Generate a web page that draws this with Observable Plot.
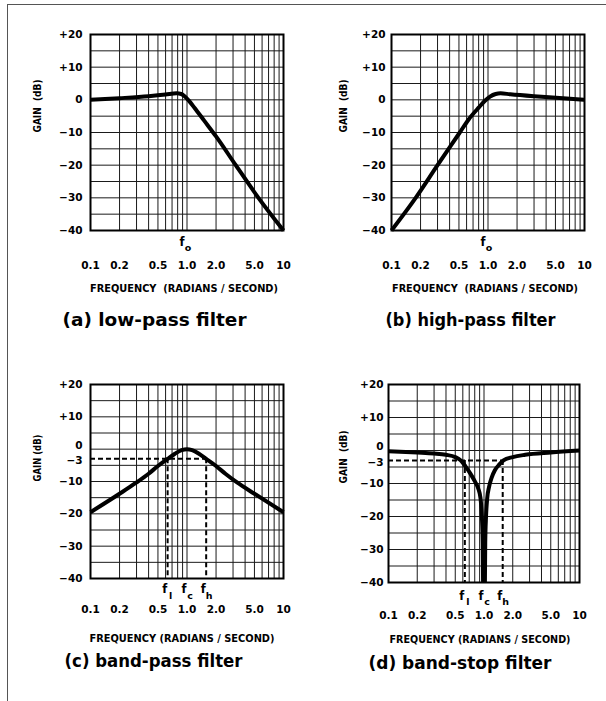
<!DOCTYPE html>
<html><head><meta charset="utf-8">
<script src="https://cdn.jsdelivr.net/npm/d3@7"></script>
<script src="https://cdn.jsdelivr.net/npm/@observablehq/plot@0.6"></script>
<style>
body{margin:0;background:#fff;}
#fig{position:relative;width:606px;height:701px;overflow:hidden;background:#fff;}
#border{position:absolute;left:7px;top:4px;width:620px;height:720px;border-top:1.5px solid #555;border-left:1.5px solid #555;}
.panel{position:absolute;}
</style></head><body>
<div id="fig"><div id="border"></div></div>
<script>
// ---- axes / grid values ----
const xGrid = [0.1,0.2,0.3,0.4,0.5,0.6,0.7,0.8,0.9,1,2,3,4,5,6,7,8,9,10];
const yGrid = [-40,-35,-30,-25,-20,-15,-10,-5,0,5,10,15,20];
const xTicks = [0.1,0.2,0.5,1,2,5,10];
const xTickLabels = ["0.1","0.2","0.5","1.0","2.0","5.0","10"];
const yTicks = [20,10,0,-10,-20,-30,-40];
const yTickLabels = ["+20","+10","0","\u221210","\u221220","\u221230","\u221240"];
const yTicksBand = [20,10,-10,-20,-30,-40];
const yTickLabelsBand = ["+20","+10","\u221210","\u221220","\u221230","\u221240"];
const yZeroTick = [0];
const yZeroLabel = ["0"];
const yHalfTick = [-3];
const yHalfLabel = ["\u22123"];

// ---- series ----
const lowPassFreq = [0.1,0.2,0.4,0.6,0.78,0.87,0.95,1.05,1.2,1.5,2,3.2,5.5,10];
const lowPassGain = [0,0.5,1.1,1.6,2,1.8,1.0,-0.3,-2.5,-6.3,-11.2,-20,-30,-40];

const highPassFreq = [0.1,0.178,0.3,0.51,0.63,0.8,0.93,1.05,1.2,1.35,1.7,3,6,10];
const highPassGain = [-40,-30,-20,-10,-6,-2.4,-0.3,1.0,1.8,2,1.7,1.1,0.5,0];

const bandPassFreq = [0.1,0.2,0.3,0.4,0.5,0.63,0.75,0.88,1.0,1.13,1.33,1.58,2,2.5,3.3,5,10];
const bandPassGain = [-19.5,-13.8,-10.3,-7.6,-5.2,-3,-1.4,-0.3,0,-0.3,-1.4,-3,-5.2,-7.6,-10.3,-13.8,-19.5];

const bandStopLowFreq = [0.1,0.2,0.3,0.4,0.5,0.57,0.64,0.72,0.8,0.87,0.92,0.95,0.97,0.978];
const bandStopLowGain = [-0.2,-0.6,-0.9,-1.3,-2,-3,-4.8,-7,-9.3,-11.5,-14.5,-20,-28,-40];
const bandStopHighFreq = [1.022,1.03,1.05,1.08,1.13,1.2,1.3,1.45,1.6,2,2.7,5,10];
const bandStopHighGain = [-40,-28,-20,-14.5,-11,-8.3,-6,-4.2,-3,-2,-1.3,-0.6,0];

const bandPassMarkFreq = [0.63,1.0,1.58];
const bandStopMarkFreq = [0.63,1.0,1.57];
const bandMarkSubs = ["l","c","h"];
const cornerFreq = [1.0];
const cornerSub = ["o"];
const halfPowerGain = -3;

const titles = ["(a) low-pass filter","(b) high-pass filter","(c) band-pass filter","(d) band-stop filter"];
const freqLabelWide = "FREQUENCY\u00a0\u00a0(RADIANS / SECOND)";
const freqLabel = "FREQUENCY (RADIANS / SECOND)";
const gainLabelWide = "GAIN\u00a0\u00a0(dB)";
const gainLabel = "GAIN (dB)";

const FONT = "DejaVu Sans, Liberation Sans, sans-serif";
const COND = "DejaVu Sans Condensed, DejaVu Sans, Liberation Sans, sans-serif";

function toRows(fs, gs, branch){ return fs.map((f,i)=>({f, g: gs[i], branch})); }

function makePanel(c){
  const marks = [
    Plot.ruleX(xGrid, {stroke:"#1a1a1a", strokeWidth:1}),
    Plot.ruleY(yGrid, {stroke:"#1a1a1a", strokeWidth:1}),
  ];
  if (c.marks) {
    marks.push(
      Plot.ruleY([halfPowerGain], {x1: 0.1, x2: c.marks[2], stroke:"#000", strokeWidth:2, strokeDasharray:"5,3"}),
      Plot.ruleX([c.marks[0], c.marks[2]], {y1: halfPowerGain, y2: -40, stroke:"#000", strokeWidth:2, strokeDasharray:"5,3"})
    );
  }
  for (const s of c.series) {
    marks.push(Plot.line(s, {x:"f", y:"g", z:"branch", stroke:"#000", strokeWidth:4, curve:"monotone-x", strokeLinejoin:"round", strokeLinecap:"butt"}));
  }
  marks.push(Plot.frame({stroke:"#000", strokeWidth:2}));
  // f labels
  const fx = c.marks || cornerFreq;
  const subs = c.marks ? bandMarkSubs : cornerSub;
  marks.push(
    Plot.text(fx, {x: d=>d, text: ()=>"f", frameAnchor:"bottom", dy:c.fDy, dx:c.fDx, fontSize:11.5, fontWeight:"bold", fontFamily:FONT, fill:"#000"}),
    Plot.text(subs, {x: (d,i)=>fx[i], text: d=>d, frameAnchor:"bottom", dy:c.subDy, dx:c.subDx, fontSize:9.5, fontWeight:"bold", fontFamily:FONT, fill:"#000"})
  );
  const yText = {frameAnchor:"left", dx:c.yDx, textAnchor:"end", fontSize:10.5, fontWeight:"bold", fontFamily:FONT, fill:"#000"};
  // tick labels
  marks.push(
    Plot.text(xTickLabels, {x:(d,i)=>xTicks[i], text:d=>d, frameAnchor:"bottom", dy:c.tickDy, fontSize:10.5, fontWeight:"bold", fontFamily:FONT, fill:"#000"}),
    Plot.text(c.yL, {y:(d,i)=>c.yT[i], text:d=>d, ...yText}),
    Plot.text([c.gain], {text:d=>d, frameAnchor:"left", dx:c.gainDx, rotate:-90, fontSize:10, fontWeight:"bold", fontFamily:COND, fill:"#000"}),
    Plot.text([c.freq], {text:d=>d, frameAnchor:"bottom", dx:c.freqDx, dy:c.freqDy, fontSize:10.5, fontWeight:"bold", fontFamily:COND, fill:"#000"}),
    Plot.text([c.title], {text:d=>d, frameAnchor:"bottom-left", dx:c.titleDx, dy:c.titleDy, textAnchor:"start", fontSize:17.5, fontWeight:"bold", fontFamily:FONT, fill:"#000"})
  );
  if (c.marks) {
    marks.push(
      Plot.text(yZeroLabel, {y:(d,i)=>yZeroTick[i], text:d=>d, ...yText, dy:-4}),
      Plot.text(yHalfLabel, {y:(d,i)=>yHalfTick[i], text:d=>d, ...yText, dy:2})
    );
  }
  const svg = Plot.plot({
    width:c.W, height:c.H,
    marginLeft:c.ml, marginRight:c.mr, marginTop:c.mt, marginBottom:c.mb,
    x:{type:"log", domain:[0.1,10], axis:null},
    y:{domain:[-40,20], axis:null},
    style:{background:"transparent", overflow:"visible"},
    marks
  });
  d3.select(svg).selectAll("text").each(function(){
    const t = this.textContent;
    if (t === c.title) { this.setAttribute("textLength", c.titleW); this.setAttribute("lengthAdjust","spacingAndGlyphs"); }
    if (t === c.freq) { this.setAttribute("textLength", c.freqW); this.setAttribute("lengthAdjust","spacingAndGlyphs"); }
    if (t === c.gain) { this.setAttribute("textLength", c.gainW); this.setAttribute("lengthAdjust","spacingAndGlyphs"); }
  });
  const div = document.createElement("div");
  div.className = "panel";
  div.style.left = c.left + "px"; div.style.top = c.top + "px";
  div.style.width = c.W + "px"; div.style.height = c.H + "px";
  div.appendChild(svg);
  document.getElementById("fig").appendChild(div);
}

makePanel({left:0, top:0, W:300, H:340, ml:90, mr:17, mt:34, mb:110,
  series:[toRows(lowPassFreq, lowPassGain, "a")], yT:yTicks, yL:yTickLabels,
  fDy:15, fDx:-5, subDy:20, subDx:1, tickDy:38, yDx:-8, gain:gainLabelWide, gainDx:-53, gainW:53,
  freq:freqLabelWide, freqDx:-3, freqDy:61, freqW:188, title:titles[0], titleDx:-28, titleDy:95, titleW:184});

makePanel({left:300, top:0, W:306, H:340, ml:91, mr:22, mt:34, mb:110,
  series:[toRows(highPassFreq, highPassGain, "b")], yT:yTicks, yL:yTickLabels,
  fDy:15, fDx:-5, subDy:20, subDx:1, tickDy:38, yDx:-6, gain:gainLabelWide, gainDx:-48, gainW:53,
  freq:freqLabelWide, freqDx:-3, freqDy:61, freqW:186, title:titles[1], titleDx:-6, titleDy:95, titleW:170});

makePanel({left:0, top:340, W:300, H:361, ml:90, mr:17, mt:44, mb:123,
  series:[toRows(bandPassFreq, bandPassGain, "c")], yT:yTicksBand, yL:yTickLabelsBand, marks:bandPassMarkFreq,
  fDy:14, fDx:-3, subDy:20, subDx:3, tickDy:34, yDx:-8, gain:gainLabel, gainDx:-53, gainW:47,
  freq:freqLabel, freqDx:-5, freqDy:63, freqW:185, title:titles[2], titleDx:-26, titleDy:88, titleW:178});

makePanel({left:300, top:340, W:306, H:361, ml:88, mr:27, mt:44, mb:119,
  series:[toRows(bandStopLowFreq, bandStopLowGain, "lo"), toRows(bandStopHighFreq, bandStopHighGain, "hi")],
  yT:yTicksBand, yL:yTickLabelsBand, marks:bandStopMarkFreq,
  fDy:17, fDx:-3, subDy:22, subDx:3, tickDy:36, yDx:-5, gain:gainLabelWide, gainDx:-45, gainW:53,
  freq:freqLabel, freqDx:-4, freqDy:60, freqW:181, title:titles[3], titleDx:-20, titleDy:86, titleW:183});
</script>
</body></html>
